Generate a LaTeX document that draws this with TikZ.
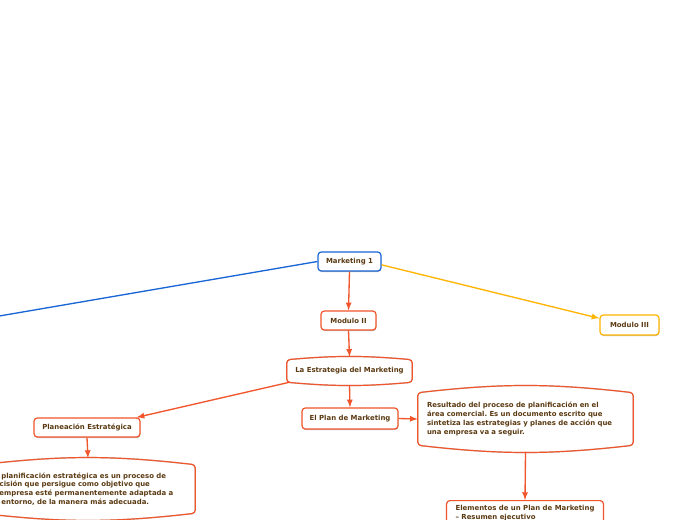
\documentclass[tikz,border=0pt]{standalone}
\usepackage{fontspec}
\setmainfont{DejaVu Sans}
\usepackage{xcolor}
\usepackage{tikz}
\usetikzlibrary{calc, shadows, positioning}
\frenchspacing

\definecolor{azul}{HTML}{1A66D6}
\definecolor{rojo}{HTML}{F0552B}
\definecolor{amarillo}{HTML}{FFB400}
\definecolor{cafe}{HTML}{5B3A12}

\newcommand{\px}{0.75pt}
\tikzset{
  letra/.style={text=cafe, font=\bfseries\fontsize{5.2pt}{6.6pt}\selectfont},
  caja/.style={draw=#1, fill=white, rounded corners=2.5pt, line width=0.9pt, letra, inner sep=0pt,
    drop shadow={shadow xshift=0.3pt, shadow yshift=-0.8pt, opacity=0.25, fill=black}},
  nube/.style={letra, inner sep=0pt},
  flecha/.style={->, line width=1pt, draw=#1}
}
% borde con arcos arriba y abajo
\newcommand{\bordecurvo}[2]{%
  \draw[black!25, line width=0.9pt, rounded corners=2.5pt, yshift=-0.8pt]
    (#1.north west) to[bend left=#2] (#1.north east) -- (#1.south east)
    to[bend left=#2] (#1.south west) -- cycle;
  \draw[rojo, line width=0.9pt, rounded corners=2.5pt]
    (#1.north west) to[bend left=#2] (#1.north east) -- (#1.south east)
    to[bend left=#2] (#1.south west) -- cycle;}

\begin{document}
\begin{tikzpicture}[>=latex, x=0.75pt, y=-0.75pt]
    \path[use as bounding box, clip] (0,0) rectangle (696,520);
    \fill[white] (0,0) rectangle (696,520);

    % Nodos principales
    \node[caja=azul, minimum width=63*\px, minimum height=19*\px] (mk) at (349.5,261.5) {Marketing 1};
    \node[caja=rojo, minimum width=55*\px, minimum height=19*\px] (mod2) at (348.5,320.5) {Modulo II};
    \node[caja=amarillo, minimum width=59*\px, minimum height=20*\px] (mod3) at (629.5,325) {Modulo III};
    \coordinate (izq) at (-10,317.6);

    % Segundo nivel
    \node[nube, minimum width=125*\px, minimum height=22*\px] (estr) at (349.5,371) {La Estrategia del Marketing};
    \bordecurvo{estr}{5}
    \node[caja=rojo, minimum width=96*\px, minimum height=21*\px] (plan) at (350,418.5) {El Plan de Marketing};
    \node[caja=rojo, minimum width=106*\px, minimum height=19*\px] (planea) at (87,427.5) {Planeación Estratégica};

    % Cajas de texto largo
    \node[nube, text width=197*\px, inner xsep=9*\px, minimum height=52*\px, align=left] (res) at (525.5,419)
      {Resultado del proceso de planificación en el\\área comercial. Es un documento escrito que\\sintetiza las estrategias y planes de acción que\\una empresa va a seguir.};
    \bordecurvo{res}{6.5}
    \node[nube, text width=196*\px, inner xsep=9*\px, minimum height=48*\px, align=left] (planif) at (88,489)
      {La planificación estratégica es un proceso de\\decisión que persigue como objetivo que\\la empresa esté permanentemente adaptada a\\su entorno, de la manera más adecuada.};
    \bordecurvo{planif}{6.5}
    \node[caja=rojo, anchor=north, minimum width=156*\px, inner xsep=9*\px, inner ysep=5*\px, align=left] (elem) at (525,500)
      {Elementos de un Plan de Marketing\\– Resumen ejecutivo\\};

    % Conectores
    \draw[line width=1pt, azul] (mk.west) -- (izq);
    \draw[flecha=amarillo] ([yshift=-2.5pt]mk.east) -- ([yshift=5pt]mod3.west);
    \draw[flecha=rojo] (mk.south) -- (mod2.north);
    \draw[flecha=rojo] (mod2.south) -- ([yshift=2.2pt]estr.north);
    \draw[flecha=rojo] ([yshift=-2.2pt]estr.south) -- (plan.north);
    \draw[flecha=rojo] ([xshift=2pt]estr.south west) -- ([xshift=-3pt]planea.north east);
    \draw[flecha=rojo] (plan.east) -- (res.west);
    \draw[flecha=rojo] (planea.south) -- ([yshift=5pt]planif.north);
    \draw[flecha=rojo] ([yshift=-5pt]res.south) -- (elem.north);
\end{tikzpicture}
\end{document}
